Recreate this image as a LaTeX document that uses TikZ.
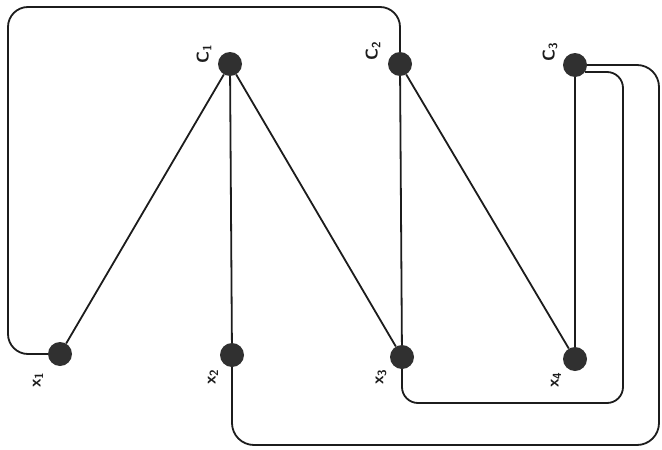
\documentclass[tikz,border=0pt]{standalone}
\definecolor{dotgray}{HTML}{303030}
\definecolor{linegray}{HTML}{1C1C1C}
\begin{document}
\begin{tikzpicture}[x=1pt,y=-1pt,
  dot/.style={circle,fill=dotgray,draw=none,minimum size=24pt,inner sep=0pt},
  wire/.style={line width=1.8pt,draw=linegray},
  lab/.style={rotate=90,font=\sffamily\bfseries\fontsize{17}{17}\selectfont,inner sep=0pt,text=linegray}]
\fill[white] (0,0) rectangle (662,450);
\useasboundingbox (0,0) rectangle (662,450);
% nodes
\node[dot] (C1) at (230,64) {};
\node[dot] (C2) at (400,64) {};
\node[dot] (C3) at (575,65) {};
\node[dot] (x1) at (60,354) {};
\node[dot] (x2) at (232,355) {};
\node[dot] (x3) at (402,357) {};
\node[dot] (x4) at (575,359) {};
% labels
\node[lab] (lC1) at (204,54) {C\textsubscript{1}};
\node[lab] (lC2) at (373,51) {C\textsubscript{2}};
\node[lab] (lC3) at (550,52) {C\textsubscript{3}};
\node[lab] (lx1) at (38,380) {x\textsubscript{1}};
\node[lab] (lx2) at (213,377) {x\textsubscript{2}};
\node[lab] (lx3) at (381,377) {x\textsubscript{3}};
\node[lab] (lx4) at (556,380) {x\textsubscript{4}};
% corner coordinates
\coordinate (tl) at (8,7);
\coordinate (ib) at (623,403);
\coordinate (ob) at (659,445);
% straight edges
\draw[wire] (C1) -- (x1);
\draw[wire] (C1) -- (x2);
\draw[wire] (C1) -- (x3);
\draw[wire] (C2) -- (x3);
\draw[wire] (C2) -- (x4);
\draw[wire] (C3) -- (x4);
% loops
\draw[wire,rounded corners=20pt] (x1.west) -- (x1.west -| tl) -- (tl) -- (tl -| C2) -- (C2.north);
\draw[wire,rounded corners=16pt] (C3.-35) -- (C3.-35 -| ib) -- (ib) -- (ib -| x3) -- (x3.south);
\draw[wire,rounded corners=22pt] (C3.east) -- (C3.east -| ob) -- (ob) -- (ob -| x2) -- (x2.south);
\end{tikzpicture}
\end{document}
